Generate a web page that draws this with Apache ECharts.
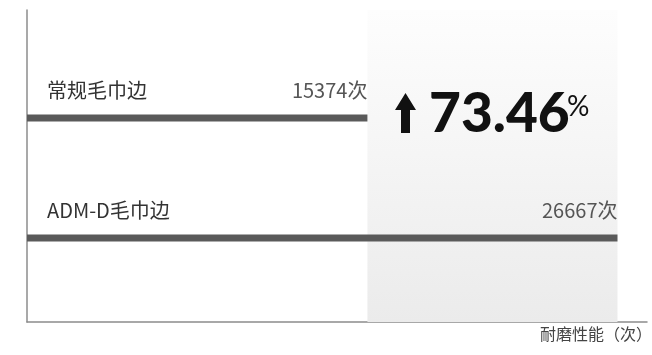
<!DOCTYPE html>
<html>
<head>
<meta charset="utf-8">
<script src="https://cdn.jsdelivr.net/npm/echarts@6/dist/echarts.min.js"></script>
<style>
  html, body { margin: 0; padding: 0; background: #fff; }
  #chart { width: 652px; height: 355px; }
</style>
</head>
<body>
<div id="chart"></div>
<script>
// data
const categories = ["常规毛巾边", "ADM-D毛巾边"];
const wearCounts = [15374, 26667];
const increaseText = "73.46";
const axisTitle = "耐磨性能（次）";

// the bars sit on slots 4 and 9 of a 13-slot category axis
const slotCount = 13;
const slotOf = [4, 9];

const slotNames = [];
const slotValues = [];
for (let i = 0; i < slotCount; i++) {
  const k = slotOf.indexOf(i);
  slotNames.push(k >= 0 ? categories[k] : "slot" + i);
  slotValues.push(k >= 0 ? wearCounts[k] : "-");
}

const cjk = '"Noto Sans CJK SC", "Noto Sans", sans-serif';
const heavy = 'Lato, "Open Sans", sans-serif';

const chart = echarts.init(document.getElementById("chart"));

const option = {
  animation: false,
  backgroundColor: "#fff",
  grid: { left: 27, right: 5, top: 10, bottom: 33, containLabel: false },
  xAxis: {
    type: "value",
    min: 0,
    max: 28000,
    axisLine: { show: true, lineStyle: { color: "#8c8c8c", width: 1.5 } },
    axisTick: { show: false },
    axisLabel: { show: false },
    splitLine: { show: false }
  },
  yAxis: {
    type: "category",
    inverse: true,
    data: slotNames,
    axisLine: { show: true, lineStyle: { color: "#8c8c8c", width: 1.5 } },
    axisTick: { show: false },
    splitLine: { show: false },
    axisLabel: {
      inside: true,
      margin: 20,
      interval: 0,
      formatter: (v) => (categories.indexOf(v) >= 0 ? "{n|" + v + "}" : ""),
      rich: {
        n: {
          color: "#333",
          fontSize: 20,
          fontFamily: cjk,
          lineHeight: 20,
          padding: [0, 0, 56, 0]
        }
      }
    }
  },
  series: [
    {
      type: "bar",
      data: slotValues,
      barWidth: 7,
      itemStyle: { color: "#5a5a5a" },
      label: {
        show: true,
        position: ["100%", "50%"],
        align: "right",
        verticalAlign: "middle",
        offset: [0, -28],
        color: "#555",
        fontSize: 20,
        fontFamily: cjk,
        formatter: (p) => p.value + "次"
      },
      markArea: {
        silent: true,
        itemStyle: {
          color: new echarts.graphic.LinearGradient(0, 0, 0, 1, [
            { offset: 0, color: "rgba(236,236,236,0.1)" },
            { offset: 1, color: "#ebebeb" }
          ])
        },
        data: [[{ xAxis: wearCounts[0] }, { xAxis: wearCounts[1] }]]
      }
    }
  ],
  graphic: [
    {
      type: "polygon",
      z: 100,
      shape: {
        points: [
          [405.5, 93], [416, 110], [410, 110], [410, 133],
          [401, 133], [401, 110], [395, 110]
        ]
      },
      style: { fill: "#111" }
    },
    {
      type: "text",
      z: 100,
      x: 429,
      y: 114,
      style: {
        text: increaseText,
        font: "900 55px " + heavy,
        fill: "#111",
        verticalAlign: "middle"
      }
    },
    {
      type: "text",
      z: 100,
      x: 567,
      y: 93,
      style: {
        text: "%",
        font: "28px " + heavy,
        fill: "#111",
        verticalAlign: "top"
      }
    },
    {
      type: "text",
      z: 100,
      left: 540,
      top: 326,
      style: {
        text: axisTitle,
        font: "16px " + cjk,
        fill: "#444"
      }
    }
  ]
};

chart.setOption(option);
</script>
</body>
</html>
